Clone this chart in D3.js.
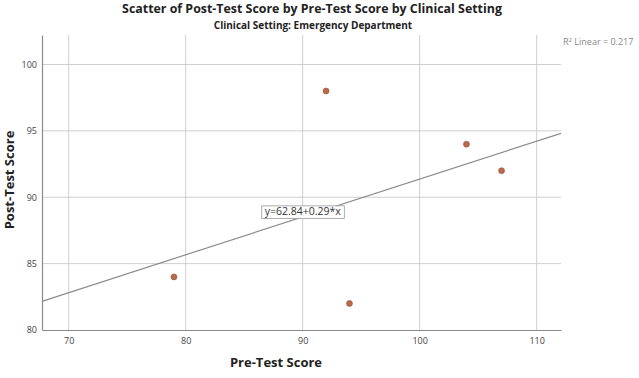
<!DOCTYPE html>
<html>
<head>
<meta charset="utf-8">
<script src="https://cdn.jsdelivr.net/npm/d3@7"></script>
<style>
  body { margin: 0; background: #fff; }
  text { font-family: "Open Sans", "DejaVu Sans", sans-serif; }
</style>
</head>
<body>
<script>
// data
var preTest = [79, 92, 94, 104, 107];
var postTest = [84, 98, 82, 94, 92];
var xTicks = [70, 80, 90, 100, 110];
var yTicks = [80, 85, 90, 95, 100];

var width = 639,
  height = 378;

var margin = { left: 42, right: 78, top: 35, bottom: 48 };

var svg = d3
  .select("body")
  .append("svg")
  .attr("width", width)
  .attr("height", height);

var x = d3.scaleLinear().domain([67.72, 112.08]).range([margin.left, width - margin.right]);
var y = d3.scaleLinear().domain([80, 102.22]).range([height - margin.bottom, margin.top]);

// least squares fit
var mx = d3.mean(preTest), my = d3.mean(postTest);
var sxy = 0, sxx = 0, syy = 0;
preTest.forEach(function (v, i) {
  sxy += (v - mx) * (postTest[i] - my);
  sxx += (v - mx) * (v - mx);
  syy += (postTest[i] - my) * (postTest[i] - my);
});
var slope = sxy / sxx;
var intercept = my - slope * mx;
var r2 = (sxy * sxy) / (sxx * syy);

// grid
svg.append("g")
  .selectAll("line")
  .data(xTicks)
  .enter()
  .append("line")
  .attr("x1", function (d) { return x(d); })
  .attr("x2", function (d) { return x(d); })
  .attr("y1", y.range()[0])
  .attr("y2", y.range()[1])
  .style("stroke", "#cfcfcf")
  .style("stroke-width", 1);

svg.append("g")
  .selectAll("line")
  .data(yTicks.slice(1))
  .enter()
  .append("line")
  .attr("x1", x.range()[0])
  .attr("x2", x.range()[1])
  .attr("y1", function (d) { return y(d); })
  .attr("y2", function (d) { return y(d); })
  .style("stroke", "#cfcfcf")
  .style("stroke-width", 1);

// axes
var xAxis = svg.append("g")
  .attr("transform", "translate(0," + y.range()[0] + ")")
  .call(d3.axisBottom(x).tickValues(xTicks).tickSize(0).tickPadding(8));
var yAxis = svg.append("g")
  .attr("transform", "translate(" + x.range()[0] + ",0)")
  .call(d3.axisLeft(y).tickValues(yTicks).tickSize(0).tickPadding(5));

[xAxis, yAxis].forEach(function (a) {
  a.select(".domain").style("stroke", "#8a8a8a").style("stroke-width", 1.2);
  a.selectAll("text")
    .style("font-size", "9px")
    .style("fill", "#444")
    .style("font-family", "'Open Sans', sans-serif");
});

// fit line
var x0 = x.domain()[0], x1 = x.domain()[1];
svg.append("line")
  .attr("x1", x(x0))
  .attr("y1", y(intercept + slope * x0))
  .attr("x2", x(x1))
  .attr("y2", y(intercept + slope * x1))
  .style("stroke", "#8c8c8c")
  .style("stroke-width", 1.2);

// points
svg.append("g")
  .selectAll("circle")
  .data(preTest)
  .enter()
  .append("circle")
  .attr("cx", function (d) { return x(d); })
  .attr("cy", function (d, i) { return y(postTest[i]); })
  .attr("r", 3)
  .style("fill", "#b7694a")
  .style("stroke", "#9a573d")
  .style("stroke-width", 0.6);

// equation label
var eq = svg.append("g").attr("transform", "translate(" + x(86.5) + "," + y(89.35) + ")");
var eqText = eq.append("text")
  .attr("x", 3)
  .attr("y", 9.5)
  .style("font-size", "10.5px")
  .style("fill", "#333")
  .text("y=" + intercept.toFixed(2) + "+" + slope.toFixed(2) + "*x");
var bb = eqText.node().getBBox();
eq.insert("rect", "text")
  .attr("x", 0)
  .attr("y", 0)
  .attr("width", bb.width + 6)
  .attr("height", 12.5)
  .style("fill", "#fff")
  .style("stroke", "#999")
  .style("stroke-width", 0.8);

// R2 label
var r2t = svg.append("text")
  .attr("x", 563)
  .attr("y", 45)
  .style("font-size", "9px")
  .style("fill", "#888");
r2t.append("tspan").text("R");
r2t.append("tspan").attr("dy", -3).style("font-size", "6px").text("2");
r2t.append("tspan").attr("dy", 3).text(" Linear = " + r2.toFixed(3));

// titles
svg.append("text")
  .attr("x", 312)
  .attr("y", 13)
  .style("text-anchor", "middle")
  .style("font-size", "12.4px")
  .style("font-weight", "bold")
  .style("fill", "#222")
  .text("Scatter of Post-Test Score by Pre-Test Score by Clinical Setting");

svg.append("text")
  .attr("x", 313)
  .attr("y", 29)
  .style("text-anchor", "middle")
  .style("font-size", "10px")
  .style("font-weight", "bold")
  .style("fill", "#222")
  .text("Clinical Setting: Emergency Department");

svg.append("text")
  .attr("x", 276)
  .attr("y", 367)
  .style("text-anchor", "middle")
  .style("font-size", "13px")
  .style("font-weight", "bold")
  .style("fill", "#222")
  .text("Pre-Test Score");

svg.append("text")
  .attr("transform", "translate(14,180) rotate(-90)")
  .style("text-anchor", "middle")
  .style("font-size", "13px")
  .style("font-weight", "bold")
  .style("fill", "#222")
  .text("Post-Test Score");
</script>
</body>
</html>
